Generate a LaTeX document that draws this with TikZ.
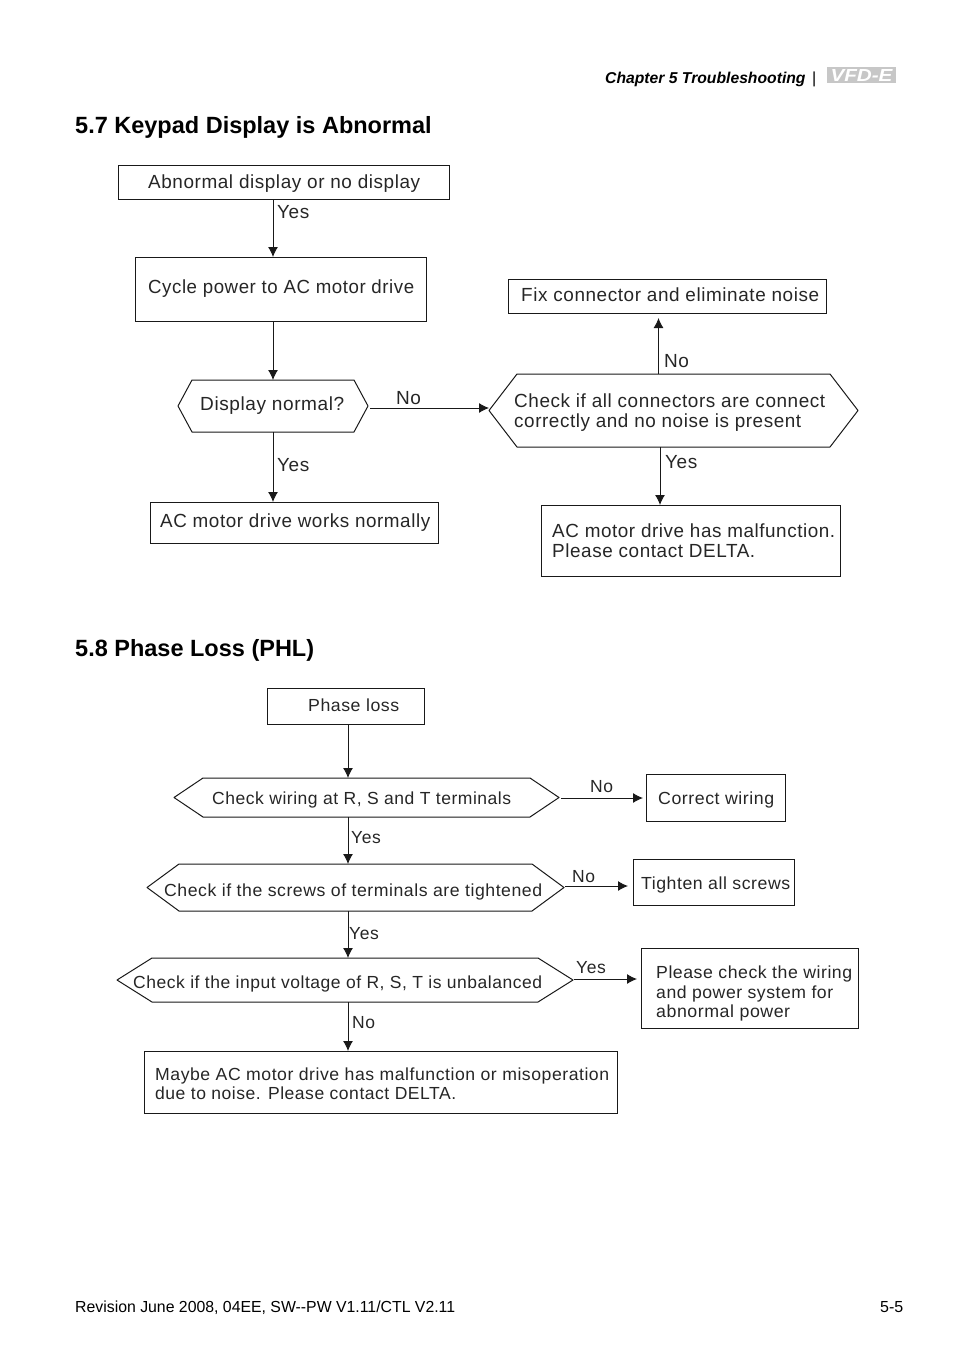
\documentclass[tikz,border=0pt]{standalone}
\usepackage{fontspec}
\usepackage{graphicx}
\setmainfont{Liberation Sans}
\newfontfamily\flow[LetterSpace=3]{Liberation Sans}
\usetikzlibrary{arrows.meta,calc}
\definecolor{logogrey}{gray}{0.78}
\tikzset{
  flowline/.style={line width=1pt,black!90},
  arrowline/.style={flowline,-{Latex[length=10pt,width=10pt]}},
  outline/.style={draw=black!90,line width=1pt,inner sep=0pt,outer sep=0pt},
  flowtext/.style={anchor=base west,inner sep=0pt,align=left,font=\flow\fontsize{#1}{20}\selectfont,text=black!85},
  flowtext/.default=19,
  lab/.style={flowtext=#1},
  lab/.default=19,
  heading/.style={anchor=base west,inner sep=0pt,font=\bfseries\fontsize{23.5}{28}\selectfont},
}
% horizontally fit a line of text to its width in the reference
\newcommand{\fitw}[2]{\resizebox{#1pt}{\height}{#2}}
% name x1 y1 x2 y2
\newcommand{\rbox}[5]{\node[outline,rectangle,minimum width=#4pt-#2pt,minimum height=#5pt-#3pt] (#1) at ({(#2+#4)/2},{(#3+#5)/2}) {};}
% name x1 y1 x2 y2 inset: hexagon with named anchor rectangle
\newcommand{\hexn}[6]{\node[inner sep=0pt,outer sep=0pt,minimum width=#4pt-#2pt,minimum height=#5pt-#3pt] (#1) at ({(#2+#4)/2},{(#3+#5)/2}) {};
  \draw[flowline,line join=round] (#1.west) -- ($(#1.north west)+(#6,0)$) -- ($(#1.north east)+(-#6,0)$) -- (#1.east) -- ($(#1.south east)+(-#6,0)$) -- ($(#1.south west)+(#6,0)$) -- cycle;}
\begin{document}
\begin{tikzpicture}[x=1pt,y=-1pt]
\useasboundingbox (0,0) rectangle (954,1357);
% header
\node[anchor=base west,inner sep=0pt,font=\bfseries\itshape\fontsize{15.7}{18}\selectfont] (chap) at (605,83) {Chapter 5 Troubleshooting};
\node[anchor=base west,inner sep=0pt,font=\fontsize{16}{18}\selectfont] (bar) at (812,83) {|};
\node[fill=logogrey,minimum width=69pt,minimum height=16pt,inner sep=0pt,text=white] (logo) at (861.5,75) {\resizebox{62pt}{12pt}{\bfseries\itshape VFD-E}};
\node[heading] (h57) at (75,133) {5.7 Keypad Display is Abnormal};
\node[heading] (h58) at (75,656) {5.8 Phase Loss (PHL)};
% 5.7 boxes
\rbox{abn}{118}{165}{449}{199}
\node[flowtext] (tabn) at (148,188) {\fitw{272}{Abnormal display or no display}};
\rbox{cyc}{135}{257}{426}{321}
\node[flowtext] (tcyc) at (148,293) {\fitw{266}{Cycle power to AC motor drive}};
\hexn{disp}{178}{380}{368}{432}{14}
\node[flowtext] (tdisp) at (200,410) {\fitw{144}{Display normal?}};
\rbox{works}{150}{502}{438}{543}
\node[flowtext] (tworks) at (160,527) {\fitw{270}{AC motor drive works normally}};
\rbox{fix}{508}{279}{826}{313}
\node[flowtext] (tfix) at (521,301) {\fitw{298}{Fix connector and eliminate noise}};
\hexn{conn}{489}{374}{858}{447}{28}
\node[flowtext] (tconn) at (514,407) {\fitw{311}{Check if all connectors are connect}};
\node[flowtext] (tconnb) at (514,427) {\fitw{287}{correctly and no noise is present}};
\rbox{mal}{541}{505}{840}{576}
\node[flowtext] (tmal) at (552,537) {\fitw{283}{AC motor drive has malfunction.}};
\node[flowtext] (tmalb) at (552,557) {\fitw{203}{Please contact DELTA.}};
% 5.7 connectors
\draw[arrowline] (273,0 |- abn.south) -- (273,0 |- cyc.north);
\draw[arrowline] (273,0 |- cyc.south) -- (273,0 |- disp.north);
\draw[arrowline] (273,0 |- disp.south) -- (273,0 |- works.north);
\draw[arrowline] ($(disp.east |- 0,408)+(2,0)$) -- (conn.west |- 0,408);
\draw[arrowline] (658.5,0 |- conn.north) -- ($(658.5,0 |- fix.south)+(0,5)$);
\draw[arrowline] (660,0 |- conn.south) -- (660,0 |- mal.north);
\node[lab] (l1) at (277,218) {Yes};
\node[lab] (l2) at (277,471) {Yes};
\node[lab] (l3) at (396,404) {No};
\node[lab] (l4) at (664,367) {No};
\node[lab] (l5) at (665,468) {Yes};
% 5.8 boxes
\rbox{ph}{267}{688}{424}{724}
\node[flowtext=17.5] (tph) at (308,711) {\fitw{91}{Phase loss}};
\hexn{wir}{174}{778}{559}{817}{29}
\node[flowtext=17.5] (twir) at (212,804) {\fitw{299}{Check wiring at R, S and T terminals}};
\rbox{cw}{646}{774}{785}{821}
\node[flowtext=17.5] (tcw) at (658,804) {\fitw{116}{Correct wiring}};
\hexn{scr}{147}{864}{564}{911}{32}
\node[flowtext=17.5] (tscr) at (164,896) {\fitw{378}{Check if the screws of terminals are tightened}};
\rbox{ts}{633}{859}{794}{905}
\node[flowtext=17.5] (tts) at (641,889) {\fitw{149}{Tighten all screws}};
\hexn{inp}{117}{958}{573}{1002}{35}
\node[flowtext=17.5] (tinp) at (133,988) {\fitw{409}{Check if the input voltage of R, S, T is unbalanced}};
\rbox{pls}{641}{948}{858}{1028}
\node[flowtext=17.5] (tpls) at (656,978) {\fitw{196}{Please check the wiring}};
\node[flowtext=17.5] (tplsb) at (656,998) {\fitw{177}{and power system for}};
\node[flowtext=17.5] (tplsc) at (656,1017) {\fitw{134}{abnormal power}};
\rbox{may}{144}{1051}{617}{1113}
\node[flowtext=17.5] (tmay) at (155,1080) {\fitw{454}{Maybe AC motor drive has malfunction or misoperation}};
\node[flowtext=17.5] (tmayb) at (155,1099) {\fitw{301}{due to noise. Please contact DELTA.}};
% 5.8 connectors
\draw[arrowline] (348,0 |- ph.south) -- (348,0 |- wir.north);
\draw[arrowline] (348,0 |- wir.south) -- (348,0 |- scr.north);
\draw[arrowline] (348,0 |- scr.south) -- (348,0 |- inp.north);
\draw[arrowline] (348,0 |- inp.south) -- (348,0 |- may.north);
\draw[arrowline] ($(wir.east |- 0,798)+(2,0)$) -- ($(cw.west |- 0,798)+(-3,0)$);
\draw[arrowline] ($(scr.east |- 0,886)+(1,0)$) -- ($(ts.west |- 0,886)+(-5,0)$);
\draw[arrowline] ($(inp.east |- 0,979)+(1,0)$) -- ($(pls.west |- 0,979)+(-4,0)$);
\node[lab=17.5] (l6) at (590,792) {No};
\node[lab=17.5] (l7) at (351,843) {Yes};
\node[lab=17.5] (l8) at (572,882) {No};
\node[lab=17.5] (l9) at (349,939) {Yes};
\node[lab=17.5] (l10) at (576,973) {Yes};
\node[lab=17.5] (l11) at (352,1028) {No};
% footer
\node[anchor=base west,inner sep=0pt,font=\fontsize{16}{18}\selectfont] (foot) at (75,1312) {\fitw{380}{Revision June 2008, 04EE, SW-{}-PW V1.11/CTL V2.11}};
\node[anchor=base west,inner sep=0pt,font=\fontsize{16}{18}\selectfont] (pg) at (880,1312) {5-5};
\end{tikzpicture}
\end{document}
